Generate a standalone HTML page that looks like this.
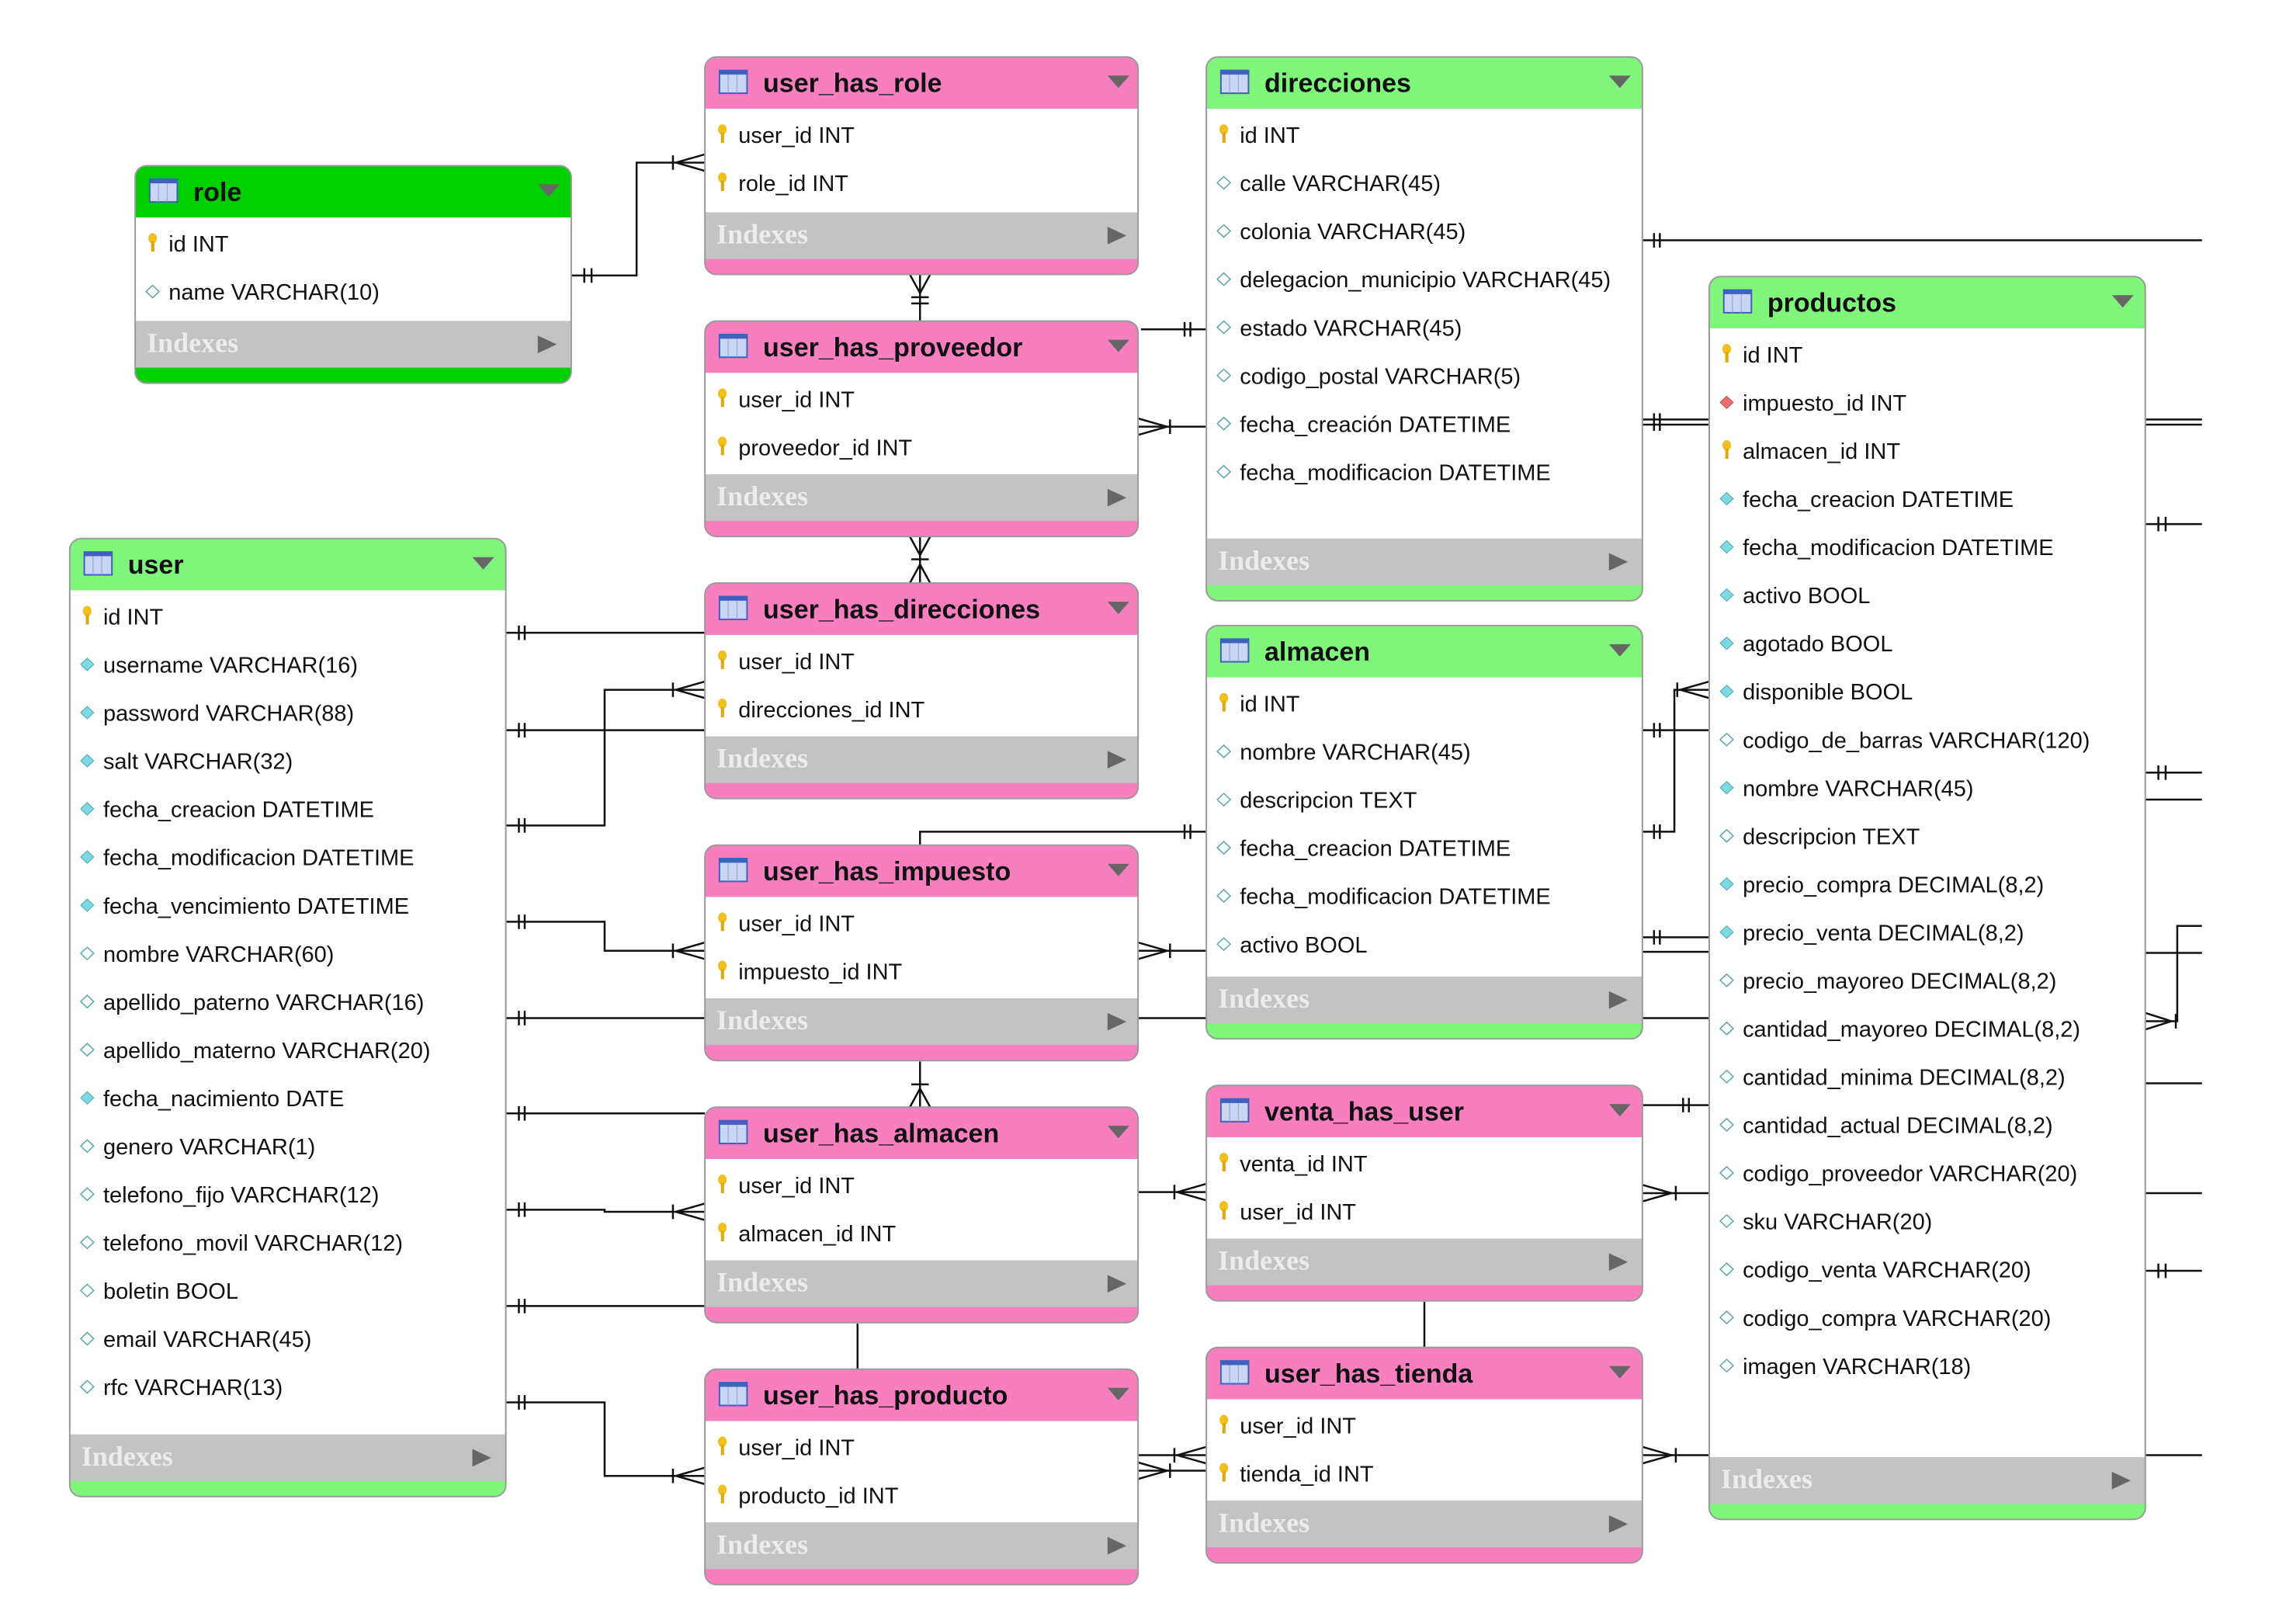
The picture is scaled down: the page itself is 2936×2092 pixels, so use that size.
<!DOCTYPE html>
<html><head><meta charset="utf-8">
<style>
html,body{margin:0;padding:0;background:#fff;}
svg{display:block}
.s{vector-effect:non-scaling-stroke}
.h{font:bold 34px "Liberation Sans",sans-serif;fill:#111}
.r{font:29px "Liberation Sans",sans-serif;fill:#111}
.i{font:bold 36px "Liberation Serif",serif;fill:#ececec}
.c path,.c line{vector-effect:non-scaling-stroke}
</style></head><body>
<svg width="2936" height="2092" viewBox="0 0 1568 1568" preserveAspectRatio="none" xmlns="http://www.w3.org/2000/svg">
<defs>
<g id="ti"><rect x="10" y="13" width="19" height="22" fill="#c9d5f2" stroke="#4060c0" stroke-width="2" class="s"/><rect x="10" y="13" width="19" height="4" fill="#4060c0"/><line x1="16" y1="17" x2="16" y2="35" stroke="#8aa0d8" class="s"/><line x1="22" y1="17" x2="22" y2="35" stroke="#8aa0d8" class="s"/></g>
<polygon id="dd" points="277,18 292,18 284.5,30" fill="#666"/>
<polygon id="ar" points="277,14 277,31 290,22.5" fill="#666"/>
<g id="k"><ellipse cx="12" cy="-5" rx="3" ry="5" fill="#f2c01e"/><rect x="11" y="-2" width="2.2" height="10" fill="#e0a810"/></g>
<polygon id="d" points="7.5,0 12,-6 16.5,0 12,6" fill="#7fd9e2" stroke="#4aa8b0" stroke-width="1" class="s"/>
<polygon id="o" points="7.5,0 12,-6 16.5,0 12,6" fill="#fff" stroke="#5aa8a8" stroke-width="1.5" class="s"/>
<polygon id="rd" points="7.5,0 12,-6 16.5,0 12,6" fill="#e87070" stroke="#c05050" stroke-width="1" class="s"/>
</defs>

<!-- connectors -->
<g class="c" stroke="#111" stroke-width="2.5" fill="none">
<path d="M393,266H438V157H485"/><path d="M402,259V273M407,259V273"/><path d="M465,157L485,149M465,157L485,165M463,150V164"/>
<path d="M633,265V310"/><path d="M633,283L626,265M633,283L640,265M627,287H639"/><path d="M627,293H639"/>
<path d="M785,318H830"/><path d="M815,311V325M819,311V325"/>
<path d="M783,412H830"/><path d="M803,412L783,404M803,412L783,420M805,405V419"/>
<path d="M633,518V563"/><path d="M633,536L626,518M633,536L640,518M633,545L626,563M633,545L640,563M627,540H639"/>
<path d="M348,611H485"/><path d="M357,604V618M361,604V618"/>
<path d="M348,705H485"/><path d="M357,698V712M361,698V712"/>
<path d="M348,797H416V666H485"/><path d="M357,790V804M361,790V804"/><path d="M465,666L485,658M465,666L485,674M463,659V673"/>
<path d="M633,816V803H830"/><path d="M815,796V810M819,796V810"/>
<path d="M348,890H416V918H485"/><path d="M357,883V897M361,883V897"/><path d="M465,918L485,910M465,918L485,926M463,911V925"/>
<path d="M783,918H830"/><path d="M803,918L783,910M803,918L783,926M805,911V925"/>
<path d="M348,983H485"/><path d="M357,976V990M361,976V990"/>
<path d="M783,983H830"/>
<path d="M633,1025V1069"/><path d="M633,1051L626,1069M633,1051L640,1069M627,1047H639"/>
<path d="M348,1075H485"/><path d="M357,1068V1082M361,1068V1082"/>
<path d="M348,1168H416V1170H485"/><path d="M357,1161V1175M361,1161V1175"/><path d="M465,1170L485,1162M465,1170L485,1178M463,1163V1177"/>
<path d="M348,1261H485"/><path d="M357,1254V1268M361,1254V1268"/>
<path d="M590,1278V1322"/>
<path d="M348,1354H416V1425H485"/><path d="M357,1347V1361M361,1347V1361"/><path d="M465,1425L485,1417M465,1425L485,1433M463,1418V1432"/>
<path d="M783,1151H830"/><path d="M810,1151L830,1143M810,1151L830,1159M808,1144V1158"/>
<path d="M1130,1152H1176"/><path d="M1150,1152L1130,1144M1150,1152L1130,1160M1153,1145V1159"/>
<path d="M1130,1067H1176"/><path d="M1158,1060V1074M1162,1060V1074"/>
<path d="M980,1257V1301"/>
<path d="M783,1405H830"/><path d="M810,1405L830,1397M810,1405L830,1413M808,1398V1412"/>
<path d="M783,1420H830"/><path d="M803,1420L783,1412M803,1420L783,1428M805,1413V1427"/>
<path d="M1130,1405H1176"/><path d="M1150,1405L1130,1397M1150,1405L1130,1413M1153,1398V1412"/>
<path d="M1130,232H1515"/><path d="M1138,225V239M1142,225V239"/>
<path d="M1130,405H1176M1130,410H1176"/><path d="M1138,399V416M1142,399V416"/>
<path d="M1476,405H1515M1476,410H1515"/>
<path d="M1130,705H1176"/><path d="M1138,698V712M1142,698V712"/>
<path d="M1130,803H1152V666H1176"/><path d="M1138,796V810M1142,796V810"/><path d="M1156,666L1176,658M1156,666L1176,674M1154,659V673"/>
<path d="M1130,905H1176M1130,919H1176"/><path d="M1138,898V912M1142,898V912"/>
<path d="M1130,983H1176"/>
<path d="M1476,506H1515"/><path d="M1485,499V513M1490,499V513"/>
<path d="M1476,746H1515"/><path d="M1485,739V753M1490,739V753"/>
<path d="M1476,772H1515"/>
<path d="M1515,894H1498V986H1476"/><path d="M1494,986L1476,978M1494,986L1476,994M1497,979V993"/>
<path d="M1476,920H1515"/>
<path d="M1476,1046H1515"/>
<path d="M1476,1152H1515"/>
<path d="M1476,1227H1515"/><path d="M1485,1220V1234M1490,1220V1234"/>
<path d="M1476,1405H1515"/>
</g>

<!-- role -->
<g transform="translate(93,160)">
<rect width="300" height="210" rx="8" ry="11" fill="#00d000"/>
<rect y="50" width="300" height="100" fill="#fff"/>
<rect y="150" width="300" height="45" fill="#c3c3c3"/>
<rect width="300" height="210" rx="8" ry="11" fill="none" stroke="#9a9a9a" stroke-width="2" class="s"/>
<use href="#ti"/><use href="#dd"/>
<text class="h" transform="translate(40,34) scale(.53406,.74952)">role</text>
<use href="#k" y="75"/><text class="r" transform="translate(23,83) scale(.53406,.74952)">id INT</text>
<use href="#o" y="121.5"/><text class="r" transform="translate(23,129.5) scale(.53406,.74952)">name VARCHAR(10)</text>
<use href="#ar" y="150"/><text class="i" transform="translate(8,180) scale(.53406,.74952)">Indexes</text>
</g>

<!-- user_has_role -->
<g transform="translate(485,55)">
<rect width="298" height="210" rx="8" ry="11" fill="#f77fc0"/>
<rect y="50" width="298" height="100" fill="#fff"/>
<rect y="150" width="298" height="45" fill="#c3c3c3"/>
<rect width="298" height="210" rx="8" ry="11" fill="none" stroke="#9a9a9a" stroke-width="2" class="s"/>
<use href="#ti"/><use href="#dd"/>
<text class="h" transform="translate(40,34) scale(.53406,.74952)">user_has_role</text>
<use href="#k" y="75"/><text class="r" transform="translate(23,83) scale(.53406,.74952)">user_id INT</text>
<use href="#k" y="121.5"/><text class="r" transform="translate(23,129.5) scale(.53406,.74952)">role_id INT</text>
<use href="#ar" y="150"/><text class="i" transform="translate(8,180) scale(.53406,.74952)">Indexes</text>
</g>

<!-- user_has_proveedor -->
<g transform="translate(485,310)">
<rect width="298" height="208" rx="8" ry="11" fill="#f77fc0"/>
<rect y="50" width="298" height="98" fill="#fff"/>
<rect y="148" width="298" height="45" fill="#c3c3c3"/>
<rect width="298" height="208" rx="8" ry="11" fill="none" stroke="#9a9a9a" stroke-width="2" class="s"/>
<use href="#ti"/><use href="#dd"/>
<text class="h" transform="translate(40,34) scale(.53406,.74952)">user_has_proveedor</text>
<use href="#k" y="75"/><text class="r" transform="translate(23,83) scale(.53406,.74952)">user_id INT</text>
<use href="#k" y="121.5"/><text class="r" transform="translate(23,129.5) scale(.53406,.74952)">proveedor_id INT</text>
<use href="#ar" y="148"/><text class="i" transform="translate(8,178) scale(.53406,.74952)">Indexes</text>
</g>

<!-- user_has_direcciones -->
<g transform="translate(485,563)">
<rect width="298" height="208" rx="8" ry="11" fill="#f77fc0"/>
<rect y="50" width="298" height="98" fill="#fff"/>
<rect y="148" width="298" height="45" fill="#c3c3c3"/>
<rect width="298" height="208" rx="8" ry="11" fill="none" stroke="#9a9a9a" stroke-width="2" class="s"/>
<use href="#ti"/><use href="#dd"/>
<text class="h" transform="translate(40,34) scale(.53406,.74952)">user_has_direcciones</text>
<use href="#k" y="75"/><text class="r" transform="translate(23,83) scale(.53406,.74952)">user_id INT</text>
<use href="#k" y="121.5"/><text class="r" transform="translate(23,129.5) scale(.53406,.74952)">direcciones_id INT</text>
<use href="#ar" y="148"/><text class="i" transform="translate(8,178) scale(.53406,.74952)">Indexes</text>
</g>

<!-- user_has_impuesto -->
<g transform="translate(485,816)">
<rect width="298" height="208" rx="8" ry="11" fill="#f77fc0"/>
<rect y="50" width="298" height="98" fill="#fff"/>
<rect y="148" width="298" height="45" fill="#c3c3c3"/>
<rect width="298" height="208" rx="8" ry="11" fill="none" stroke="#9a9a9a" stroke-width="2" class="s"/>
<use href="#ti"/><use href="#dd"/>
<text class="h" transform="translate(40,34) scale(.53406,.74952)">user_has_impuesto</text>
<use href="#k" y="75"/><text class="r" transform="translate(23,83) scale(.53406,.74952)">user_id INT</text>
<use href="#k" y="121.5"/><text class="r" transform="translate(23,129.5) scale(.53406,.74952)">impuesto_id INT</text>
<use href="#ar" y="148"/><text class="i" transform="translate(8,178) scale(.53406,.74952)">Indexes</text>
</g>

<!-- user_has_almacen -->
<g transform="translate(485,1069)">
<rect width="298" height="208" rx="8" ry="11" fill="#f77fc0"/>
<rect y="50" width="298" height="98" fill="#fff"/>
<rect y="148" width="298" height="45" fill="#c3c3c3"/>
<rect width="298" height="208" rx="8" ry="11" fill="none" stroke="#9a9a9a" stroke-width="2" class="s"/>
<use href="#ti"/><use href="#dd"/>
<text class="h" transform="translate(40,34) scale(.53406,.74952)">user_has_almacen</text>
<use href="#k" y="75"/><text class="r" transform="translate(23,83) scale(.53406,.74952)">user_id INT</text>
<use href="#k" y="121.5"/><text class="r" transform="translate(23,129.5) scale(.53406,.74952)">almacen_id INT</text>
<use href="#ar" y="148"/><text class="i" transform="translate(8,178) scale(.53406,.74952)">Indexes</text>
</g>

<!-- user_has_producto -->
<g transform="translate(485,1322)">
<rect width="298" height="208" rx="8" ry="11" fill="#f77fc0"/>
<rect y="50" width="298" height="98" fill="#fff"/>
<rect y="148" width="298" height="45" fill="#c3c3c3"/>
<rect width="298" height="208" rx="8" ry="11" fill="none" stroke="#9a9a9a" stroke-width="2" class="s"/>
<use href="#ti"/><use href="#dd"/>
<text class="h" transform="translate(40,34) scale(.53406,.74952)">user_has_producto</text>
<use href="#k" y="75"/><text class="r" transform="translate(23,83) scale(.53406,.74952)">user_id INT</text>
<use href="#k" y="121.5"/><text class="r" transform="translate(23,129.5) scale(.53406,.74952)">producto_id INT</text>
<use href="#ar" y="148"/><text class="i" transform="translate(8,178) scale(.53406,.74952)">Indexes</text>
</g>

<!-- venta_has_user -->
<g transform="translate(830,1048)">
<rect width="300" height="208" rx="8" ry="11" fill="#f77fc0"/>
<rect y="50" width="300" height="98" fill="#fff"/>
<rect y="148" width="300" height="45" fill="#c3c3c3"/>
<rect width="300" height="208" rx="8" ry="11" fill="none" stroke="#9a9a9a" stroke-width="2" class="s"/>
<use href="#ti"/><use href="#dd"/>
<text class="h" transform="translate(40,34) scale(.53406,.74952)">venta_has_user</text>
<use href="#k" y="75"/><text class="r" transform="translate(23,83) scale(.53406,.74952)">venta_id INT</text>
<use href="#k" y="121.5"/><text class="r" transform="translate(23,129.5) scale(.53406,.74952)">user_id INT</text>
<use href="#ar" y="148"/><text class="i" transform="translate(8,178) scale(.53406,.74952)">Indexes</text>
</g>

<!-- user_has_tienda -->
<g transform="translate(830,1301)">
<rect width="300" height="208" rx="8" ry="11" fill="#f77fc0"/>
<rect y="50" width="300" height="98" fill="#fff"/>
<rect y="148" width="300" height="45" fill="#c3c3c3"/>
<rect width="300" height="208" rx="8" ry="11" fill="none" stroke="#9a9a9a" stroke-width="2" class="s"/>
<use href="#ti"/><use href="#dd"/>
<text class="h" transform="translate(40,34) scale(.53406,.74952)">user_has_tienda</text>
<use href="#k" y="75"/><text class="r" transform="translate(23,83) scale(.53406,.74952)">user_id INT</text>
<use href="#k" y="121.5"/><text class="r" transform="translate(23,129.5) scale(.53406,.74952)">tienda_id INT</text>
<use href="#ar" y="148"/><text class="i" transform="translate(8,178) scale(.53406,.74952)">Indexes</text>
</g>

<!-- direcciones -->
<g transform="translate(830,55)">
<rect width="300" height="525" rx="8" ry="11" fill="#80f57c"/>
<rect y="50" width="300" height="415" fill="#fff"/>
<rect y="465" width="300" height="45" fill="#c3c3c3"/>
<rect width="300" height="525" rx="8" ry="11" fill="none" stroke="#9a9a9a" stroke-width="2" class="s"/>
<use href="#ti"/><use href="#dd"/>
<text class="h" transform="translate(40,34) scale(.53406,.74952)">direcciones</text>
<use href="#k" y="75"/><text class="r" transform="translate(23,83) scale(.53406,.74952)">id INT</text>
<use href="#o" y="121.5"/><text class="r" transform="translate(23,129.5) scale(.53406,.74952)">calle VARCHAR(45)</text>
<use href="#o" y="168"/><text class="r" transform="translate(23,176) scale(.53406,.74952)">colonia VARCHAR(45)</text>
<use href="#o" y="214.5"/><text class="r" transform="translate(23,222.5) scale(.53406,.74952)">delegacion_municipio VARCHAR(45)</text>
<use href="#o" y="261"/><text class="r" transform="translate(23,269) scale(.53406,.74952)">estado VARCHAR(45)</text>
<use href="#o" y="307.5"/><text class="r" transform="translate(23,315.5) scale(.53406,.74952)">codigo_postal VARCHAR(5)</text>
<use href="#o" y="354"/><text class="r" transform="translate(23,362) scale(.53406,.74952)">fecha_creación DATETIME</text>
<use href="#o" y="400.5"/><text class="r" transform="translate(23,408.5) scale(.53406,.74952)">fecha_modificacion DATETIME</text>
<use href="#ar" y="465"/><text class="i" transform="translate(8,495) scale(.53406,.74952)">Indexes</text>
</g>

<!-- almacen -->
<g transform="translate(830,604)">
<rect width="300" height="399" rx="8" ry="11" fill="#80f57c"/>
<rect y="50" width="300" height="289" fill="#fff"/>
<rect y="339" width="300" height="45" fill="#c3c3c3"/>
<rect width="300" height="399" rx="8" ry="11" fill="none" stroke="#9a9a9a" stroke-width="2" class="s"/>
<use href="#ti"/><use href="#dd"/>
<text class="h" transform="translate(40,34) scale(.53406,.74952)">almacen</text>
<use href="#k" y="75"/><text class="r" transform="translate(23,83) scale(.53406,.74952)">id INT</text>
<use href="#o" y="121.5"/><text class="r" transform="translate(23,129.5) scale(.53406,.74952)">nombre VARCHAR(45)</text>
<use href="#o" y="168"/><text class="r" transform="translate(23,176) scale(.53406,.74952)">descripcion TEXT</text>
<use href="#o" y="214.5"/><text class="r" transform="translate(23,222.5) scale(.53406,.74952)">fecha_creacion DATETIME</text>
<use href="#o" y="261"/><text class="r" transform="translate(23,269) scale(.53406,.74952)">fecha_modificacion DATETIME</text>
<use href="#o" y="307.5"/><text class="r" transform="translate(23,315.5) scale(.53406,.74952)">activo BOOL</text>
<use href="#ar" y="339"/><text class="i" transform="translate(8,369) scale(.53406,.74952)">Indexes</text>
</g>

<!-- user -->
<g transform="translate(48,520)">
<rect width="300" height="925" rx="8" ry="11" fill="#80f57c"/>
<rect y="50" width="300" height="815" fill="#fff"/>
<rect y="865" width="300" height="45" fill="#c3c3c3"/>
<rect width="300" height="925" rx="8" ry="11" fill="none" stroke="#9a9a9a" stroke-width="2" class="s"/>
<use href="#ti"/><use href="#dd"/>
<text class="h" transform="translate(40,34) scale(.53406,.74952)">user</text>
<use href="#k" y="75"/><text class="r" transform="translate(23,83) scale(.53406,.74952)">id INT</text>
<use href="#d" y="121.5"/><text class="r" transform="translate(23,129.5) scale(.53406,.74952)">username VARCHAR(16)</text>
<use href="#d" y="168"/><text class="r" transform="translate(23,176) scale(.53406,.74952)">password VARCHAR(88)</text>
<use href="#d" y="214.5"/><text class="r" transform="translate(23,222.5) scale(.53406,.74952)">salt VARCHAR(32)</text>
<use href="#d" y="261"/><text class="r" transform="translate(23,269) scale(.53406,.74952)">fecha_creacion DATETIME</text>
<use href="#d" y="307.5"/><text class="r" transform="translate(23,315.5) scale(.53406,.74952)">fecha_modificacion DATETIME</text>
<use href="#d" y="354"/><text class="r" transform="translate(23,362) scale(.53406,.74952)">fecha_vencimiento DATETIME</text>
<use href="#o" y="400.5"/><text class="r" transform="translate(23,408.5) scale(.53406,.74952)">nombre VARCHAR(60)</text>
<use href="#o" y="447"/><text class="r" transform="translate(23,455) scale(.53406,.74952)">apellido_paterno VARCHAR(16)</text>
<use href="#o" y="493.5"/><text class="r" transform="translate(23,501.5) scale(.53406,.74952)">apellido_materno VARCHAR(20)</text>
<use href="#d" y="540"/><text class="r" transform="translate(23,548) scale(.53406,.74952)">fecha_nacimiento DATE</text>
<use href="#o" y="586.5"/><text class="r" transform="translate(23,594.5) scale(.53406,.74952)">genero VARCHAR(1)</text>
<use href="#o" y="633"/><text class="r" transform="translate(23,641) scale(.53406,.74952)">telefono_fijo VARCHAR(12)</text>
<use href="#o" y="679.5"/><text class="r" transform="translate(23,687.5) scale(.53406,.74952)">telefono_movil VARCHAR(12)</text>
<use href="#o" y="726"/><text class="r" transform="translate(23,734) scale(.53406,.74952)">boletin BOOL</text>
<use href="#o" y="772.5"/><text class="r" transform="translate(23,780.5) scale(.53406,.74952)">email VARCHAR(45)</text>
<use href="#o" y="819"/><text class="r" transform="translate(23,827) scale(.53406,.74952)">rfc VARCHAR(13)</text>
<use href="#ar" y="865"/><text class="i" transform="translate(8,895) scale(.53406,.74952)">Indexes</text>
</g>

<!-- productos -->
<g transform="translate(1176,267)">
<rect width="300" height="1200" rx="8" ry="11" fill="#80f57c"/>
<rect y="50" width="300" height="1090" fill="#fff"/>
<rect y="1140" width="300" height="45" fill="#c3c3c3"/>
<rect width="300" height="1200" rx="8" ry="11" fill="none" stroke="#9a9a9a" stroke-width="2" class="s"/>
<use href="#ti"/><use href="#dd"/>
<text class="h" transform="translate(40,34) scale(.53406,.74952)">productos</text>
<use href="#k" y="75"/><text class="r" transform="translate(23,83) scale(.53406,.74952)">id INT</text>
<use href="#rd" y="121.5"/><text class="r" transform="translate(23,129.5) scale(.53406,.74952)">impuesto_id INT</text>
<use href="#k" y="168"/><text class="r" transform="translate(23,176) scale(.53406,.74952)">almacen_id INT</text>
<use href="#d" y="214.5"/><text class="r" transform="translate(23,222.5) scale(.53406,.74952)">fecha_creacion DATETIME</text>
<use href="#d" y="261"/><text class="r" transform="translate(23,269) scale(.53406,.74952)">fecha_modificacion DATETIME</text>
<use href="#d" y="307.5"/><text class="r" transform="translate(23,315.5) scale(.53406,.74952)">activo BOOL</text>
<use href="#d" y="354"/><text class="r" transform="translate(23,362) scale(.53406,.74952)">agotado BOOL</text>
<use href="#d" y="400.5"/><text class="r" transform="translate(23,408.5) scale(.53406,.74952)">disponible BOOL</text>
<use href="#o" y="447"/><text class="r" transform="translate(23,455) scale(.53406,.74952)">codigo_de_barras VARCHAR(120)</text>
<use href="#d" y="493.5"/><text class="r" transform="translate(23,501.5) scale(.53406,.74952)">nombre VARCHAR(45)</text>
<use href="#o" y="540"/><text class="r" transform="translate(23,548) scale(.53406,.74952)">descripcion TEXT</text>
<use href="#d" y="586.5"/><text class="r" transform="translate(23,594.5) scale(.53406,.74952)">precio_compra DECIMAL(8,2)</text>
<use href="#d" y="633"/><text class="r" transform="translate(23,641) scale(.53406,.74952)">precio_venta DECIMAL(8,2)</text>
<use href="#o" y="679.5"/><text class="r" transform="translate(23,687.5) scale(.53406,.74952)">precio_mayoreo DECIMAL(8,2)</text>
<use href="#o" y="726"/><text class="r" transform="translate(23,734) scale(.53406,.74952)">cantidad_mayoreo DECIMAL(8,2)</text>
<use href="#o" y="772.5"/><text class="r" transform="translate(23,780.5) scale(.53406,.74952)">cantidad_minima DECIMAL(8,2)</text>
<use href="#o" y="819"/><text class="r" transform="translate(23,827) scale(.53406,.74952)">cantidad_actual DECIMAL(8,2)</text>
<use href="#o" y="865.5"/><text class="r" transform="translate(23,873.5) scale(.53406,.74952)">codigo_proveedor VARCHAR(20)</text>
<use href="#o" y="912"/><text class="r" transform="translate(23,920) scale(.53406,.74952)">sku VARCHAR(20)</text>
<use href="#o" y="958.5"/><text class="r" transform="translate(23,966.5) scale(.53406,.74952)">codigo_venta VARCHAR(20)</text>
<use href="#o" y="1005"/><text class="r" transform="translate(23,1013) scale(.53406,.74952)">codigo_compra VARCHAR(20)</text>
<use href="#o" y="1051.5"/><text class="r" transform="translate(23,1059.5) scale(.53406,.74952)">imagen VARCHAR(18)</text>
<use href="#ar" y="1140"/><text class="i" transform="translate(8,1170) scale(.53406,.74952)">Indexes</text>
</g>
</svg>
</body></html>
